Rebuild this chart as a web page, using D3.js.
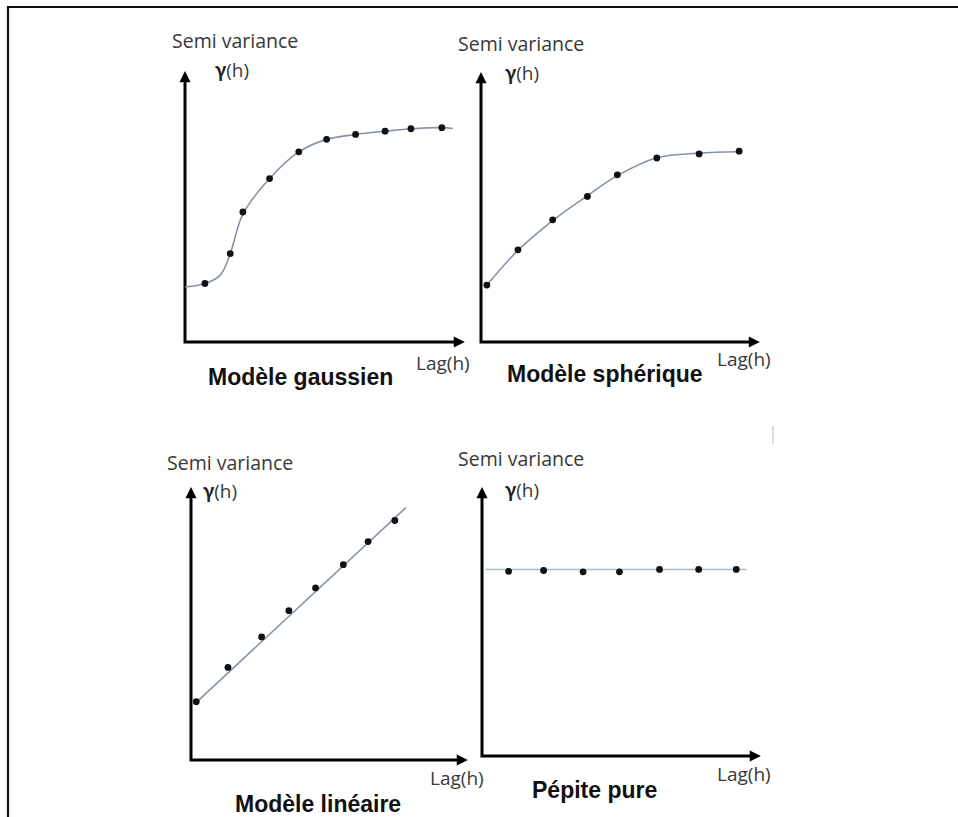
<!DOCTYPE html>
<html>
<head>
<meta charset="utf-8">
<script src="https://cdn.jsdelivr.net/npm/d3@7"></script>
<style>
  html, body { margin: 0; padding: 0; background: #fff; }
  svg { display: block; }
</style>
</head>
<body>
<svg id="chart" width="958" height="817"></svg>
<script>
// ---------------- DATA ----------------
const panelTitles = ["Modèle gaussien", "Modèle sphérique", "Modèle linéaire", "Pépite pure"];
const yAxisTitle = "Semi variance";
const yAxisSymbol = "γ";
const yAxisArg = "(h)";
const xAxisTitle = "Lag(h)";

// Gaussian model: experimental points and fitted curve
const gaussLag   = [0.71, 1.61, 2.06, 3.01, 4.05, 5.04, 6.07, 7.12, 8.04, 9.14];
const gaussGamma = [2.15, 3.25, 4.78, 6.01, 6.99, 7.45, 7.63, 7.75, 7.84, 7.88];
const gaussFitLag   = [0.00, 0.71, 1.25, 1.61, 2.06, 3.01, 4.05, 5.04, 6.07, 7.12, 8.04, 9.14, 9.53];
const gaussFitGamma = [2.02, 2.15, 2.45, 3.25, 4.70, 6.01, 6.99, 7.45, 7.63, 7.75, 7.84, 7.88, 7.85];

// Spherical model
const spherLag   = [0.21, 1.32, 2.56, 3.80, 4.87, 6.28, 7.79, 9.22];
const spherGamma = [2.10, 3.40, 4.51, 5.37, 6.17, 6.79, 6.94, 7.04];
const spherFitLag   = [0.21, 1.32, 2.56, 3.80, 4.87, 6.28, 7.79, 9.22];
const spherFitGamma = [2.10, 3.38, 4.48, 5.40, 6.14, 6.80, 6.97, 7.02];

// Linear model
const linLag   = [0.19, 1.33, 2.54, 3.52, 4.48, 5.48, 6.37, 7.33];
const linGamma = [2.13, 3.38, 4.49, 5.45, 6.28, 7.13, 7.97, 8.74];
const linFitLag   = [0.22, 7.73];
const linFitGamma = [2.13, 9.21];

// Pure nugget
const nugLag   = [0.95, 2.20, 3.61, 4.91, 6.34, 7.74, 9.08];
const nugGamma = [6.84, 6.87, 6.82, 6.82, 6.91, 6.91, 6.91];
const nugFitLag   = [0.12, 9.46];
const nugFitGamma = [6.91, 6.91];

const axisDomain = [0, 10];

// ---------------- LAYOUT ----------------
const panels = [
  { title: panelTitles[0], lag: gaussLag, gamma: gaussGamma, fitLag: gaussFitLag, fitGamma: gaussFitGamma,
    curve: d3.curveCatmullRom.alpha(0.5), lineColor: "#8494a4",
    ox: 185, oy: 342, tipX: 466, tipY: 70,
    sv: [172, 48], gam: [215, 77], lagT: [416, 370], tt: [208, 385] },
  { title: panelTitles[1], lag: spherLag, gamma: spherGamma, fitLag: spherFitLag, fitGamma: spherFitGamma,
    curve: d3.curveCatmullRom.alpha(0.5), lineColor: "#8494a4",
    ox: 481, oy: 342, tipX: 761, tipY: 71,
    sv: [458, 51], gam: [505, 80], lagT: [717, 366], tt: [507, 382] },
  { title: panelTitles[2], lag: linLag, gamma: linGamma, fitLag: linFitLag, fitGamma: linFitGamma,
    curve: d3.curveLinear, lineColor: "#8494a4",
    ox: 191, oy: 760, tipX: 469, tipY: 486,
    sv: [167, 470], gam: [203, 498], lagT: [430, 785], tt: [235, 812] },
  { title: panelTitles[3], lag: nugLag, gamma: nugGamma, fitLag: nugFitLag, fitGamma: nugFitGamma,
    curve: d3.curveLinear, lineColor: "#a9bcc8",
    ox: 482, oy: 756, tipX: 762, tipY: 486,
    sv: [458, 466], gam: [505, 497], lagT: [717, 781], tt: [532, 798] }
];

const svg = d3.select("#chart");

// outer frame (left and top edges)
svg.append("path")
  .attr("d", "M8,817 L8,7 L958,7")
  .attr("fill", "none").attr("stroke", "#111").attr("stroke-width", 2.2);

// faint mark at right
svg.append("rect").attr("x", 772).attr("y", 426).attr("width", 2).attr("height", 18).attr("fill", "#dcdcdc");

// arrow marker: tip lies 10px beyond the end of the line (3px stroke)
const defs = svg.append("defs");
defs.append("marker")
  .attr("id", "arrow")
  .attr("viewBox", "0 0 10 10")
  .attr("refX", 2).attr("refY", 5)
  .attr("markerWidth", 4.2).attr("markerHeight", 3.7)
  .attr("markerUnits", "strokeWidth")
  .attr("orient", "auto-start-reverse")
  .append("path").attr("d", "M0,0 L10,5 L0,10 z").attr("fill", "#000");
const arrowLen = 10;

const labelFont = "'Open Sans', Lato, sans-serif";
const gammaFont = "Lato, 'DejaVu Sans', sans-serif";
const titleFont = "'Liberation Sans', Arial, sans-serif";

panels.forEach(p => {
  const x = d3.scaleLinear().domain(axisDomain).range([p.ox, p.tipX]);
  const y = d3.scaleLinear().domain(axisDomain).range([p.oy, p.tipY]);
  const g = svg.append("g");

  // axes with arrows
  g.append("path")
    .attr("d", `M${x(0)},${y(axisDomain[1]) + arrowLen} L${x(0)},${y(0)} L${x(axisDomain[1]) - arrowLen},${y(0)}`)
    .attr("fill", "none").attr("stroke", "#000").attr("stroke-width", 3)
    .attr("stroke-linejoin", "miter")
    .attr("marker-start", "url(#arrow)")
    .attr("marker-end", "url(#arrow)");

  // fitted curve
  const fit = p.fitLag.map((v, i) => [v, p.fitGamma[i]]);
  g.append("path")
    .datum(fit)
    .attr("d", d3.line().x(d => x(d[0])).y(d => y(d[1])).curve(p.curve))
    .attr("fill", "none").attr("stroke", p.lineColor).attr("stroke-width", 1.6);

  // points
  g.selectAll("circle.pt")
    .data(p.lag.map((v, i) => [v, p.gamma[i]]))
    .join("circle").attr("class", "pt")
    .attr("cx", d => x(d[0])).attr("cy", d => y(d[1]))
    .attr("r", 3.4).attr("fill", "#111");

  // texts
  g.append("text").attr("x", p.sv[0]).attr("y", p.sv[1])
    .attr("font-family", labelFont).attr("font-size", 19.5).attr("fill", "#383838")
    .text(yAxisTitle);
  const gt = g.append("text").attr("x", p.gam[0]).attr("y", p.gam[1])
    .attr("font-family", labelFont).attr("font-size", 19).attr("fill", "#383838");
  gt.append("tspan").attr("font-family", gammaFont).attr("font-weight", "bold")
    .attr("font-size", 20).attr("fill", "#222").text(yAxisSymbol);
  gt.append("tspan").text(yAxisArg);
  g.append("text").attr("x", p.lagT[0]).attr("y", p.lagT[1])
    .attr("font-family", labelFont).attr("font-size", 19).attr("fill", "#383838")
    .text(xAxisTitle);
  g.append("text").attr("x", p.tt[0]).attr("y", p.tt[1])
    .attr("font-family", titleFont).attr("font-size", 23).attr("font-weight", "bold").attr("fill", "#111")
    .text(p.title);
});
</script>
</body>
</html>
